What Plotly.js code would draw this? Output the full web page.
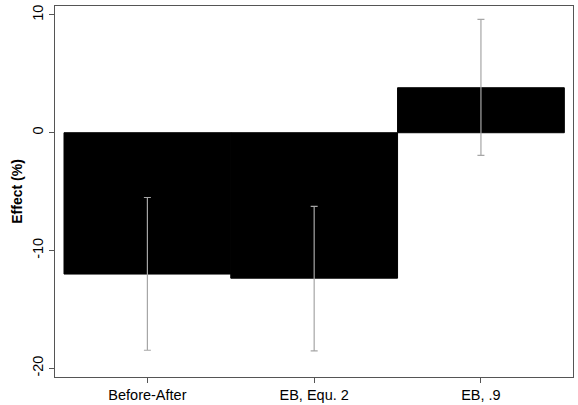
<!DOCTYPE html>
<html>
<head>
<meta charset="utf-8">
<script src="https://cdn.plot.ly/plotly-3.0.1.min.js"></script>
<style>html,body{margin:0;padding:0;background:#fff;}#chart{width:578px;height:405px;}</style>
</head>
<body>
<div id="chart"></div>
<script>
const categories = ["Before-After", "EB, Equ. 2", "EB, .9"];
const effects = [-12.0, -12.35, 3.82];
const ciUpper = [-5.5, -6.25, 9.63];
const ciLower = [-18.47, -18.53, -1.92];
const yTicks = [-20, -10, 0, 10];

const plus = effects.map((v, i) => ciUpper[i] - v);
const minus = effects.map((v, i) => v - ciLower[i]);

const trace = {
  type: "bar",
  x: categories,
  y: effects,
  width: 1,
  marker: { color: "#000000", line: { color: "#000000", width: 1 } },
  error_y: {
    type: "data", symmetric: false, array: plus, arrayminus: minus,
    color: "#a6a6a6", thickness: 1.2, width: 3.5
  },
  hoverinfo: "skip"
};

const layout = {
  width: 578, height: 405,
  margin: { l: 55, r: 5, t: 6, b: 28 },
  paper_bgcolor: "#ffffff", plot_bgcolor: "#ffffff",
  showlegend: false,
  font: { family: "Liberation Sans, Arial, sans-serif", size: 14.5, color: "#000" },
  xaxis: {
    type: "category", range: [-0.554, 2.552],
    showline: true, mirror: true, linecolor: "#555", linewidth: 1,
    ticks: "outside", ticklen: 5, tickcolor: "#555",
    showgrid: false, zeroline: false, tickfont: { size: 14.5 }
  },
  yaxis: {
    range: [-20.74, 10.76],
    tickvals: yTicks, ticktext: yTicks.map(String), tickangle: -90,
    showline: true, mirror: true, linecolor: "#555", linewidth: 1,
    ticks: "outside", ticklen: 5, tickcolor: "#555",
    showgrid: false, zeroline: false, tickfont: { size: 14.5 },
    title: { text: "<b>Effect (%)</b>", font: { size: 14 }, standoff: 4 }
  }
};

Plotly.newPlot("chart", [trace], layout, { staticPlot: true, displayModeBar: false });
</script>
</body>
</html>
